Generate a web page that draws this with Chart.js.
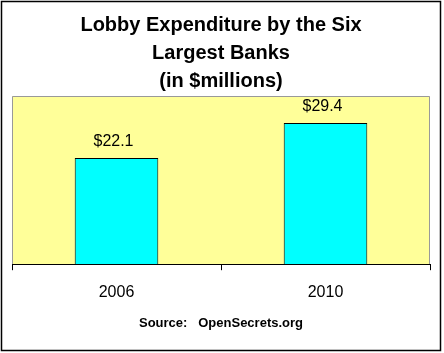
<!DOCTYPE html>
<html>
<head>
<meta charset="utf-8">
<script src="https://cdn.jsdelivr.net/npm/chart.js@4"></script>
<style>
  html, body { margin: 0; padding: 0; background: #fff; }
  #wrap { width: 444px; height: 353px; }
</style>
</head>
<body>
<div id="wrap"><canvas id="chart" width="444" height="353"></canvas></div>
<script>
const years = ['2006', '2010'];
const spending = [22.1, 29.4];
const titleLines = ['Lobby Expenditure by the Six', 'Largest Banks', '(in $millions)'];
const sourceText = 'Source:   OpenSecrets.org';

const fontFamily = "'Liberation Sans', Arial, Helvetica, sans-serif";

// yellow plot background, grey frame, outer black border
const frame = {
    id: 'frame',
    beforeDraw(chart) {
        const ctx = chart.ctx;
        const a = chart.chartArea;
        ctx.save();
        ctx.fillStyle = '#fff';
        ctx.fillRect(0, 0, chart.width, chart.height);
        ctx.strokeStyle = '#000';
        ctx.lineWidth = 1.5;
        ctx.strokeRect(1.5, 1.5, 439, 349);
        ctx.fillStyle = '#FFFF99';
        ctx.fillRect(a.left, a.top, a.right - a.left, a.bottom - a.top);
        ctx.strokeStyle = '#999';
        ctx.lineWidth = 1;
        ctx.beginPath();
        ctx.moveTo(a.left + 0.5, a.bottom);
        ctx.lineTo(a.left + 0.5, a.top + 0.5);
        ctx.lineTo(a.right - 0.5, a.top + 0.5);
        ctx.lineTo(a.right - 0.5, a.bottom);
        ctx.stroke();
        ctx.restore();
    }
};

// value labels over the bars
const valueLabels = {
    id: 'valueLabels',
    afterDatasetsDraw(chart) {
        const ctx = chart.ctx;
        const meta = chart.getDatasetMeta(0);
        ctx.save();
        ctx.font = '16px ' + fontFamily;
        ctx.fillStyle = '#000';
        ctx.textAlign = 'center';
        ctx.textBaseline = 'alphabetic';
        meta.data.forEach(function(bar, i) {
            ctx.fillText('$' + spending[i].toFixed(1), bar.x - 3, bar.y - 11.5);
        });
        ctx.restore();
    }
};

new Chart(document.getElementById('chart'), {
    type: 'bar',
    data: {
        labels: years,
        datasets: [{
            data: spending,
            backgroundColor: '#00FFFF',
            borderColor: '#000',
            borderWidth: 1,
            barPercentage: 0.4,
            categoryPercentage: 1
        }]
    },
    options: {
        responsive: false,
        animation: false,
        layout: {
            padding: { left: 12, right: 14, top: 0, bottom: 0 }
        },
        plugins: {
            legend: { display: false },
            tooltip: { enabled: false },
            title: {
                display: true,
                text: titleLines,
                color: '#000',
                font: { family: fontFamily, size: 20, weight: 'bold', lineHeight: 1.4 },
                padding: { top: 11, bottom: 1 }
            },
            subtitle: {
                display: true,
                position: 'bottom',
                text: sourceText,
                color: '#000',
                font: { family: fontFamily, size: 13, weight: 'bold', lineHeight: 1.2 },
                padding: { top: 0, bottom: 22 }
            }
        },
        scales: {
            x: {
                grid: {
                    display: true,
                    offset: true,
                    drawOnChartArea: false,
                    color: '#000',
                    tickLength: 6
                },
                border: { display: true, color: '#000', width: 1 },
                ticks: {
                    color: '#000',
                    padding: 13,
                    font: { family: fontFamily, size: 16 }
                }
            },
            y: {
                display: false,
                min: 0,
                max: 35
            }
        }
    },
    plugins: [frame, valueLabels]
});
</script>
</body>
</html>
